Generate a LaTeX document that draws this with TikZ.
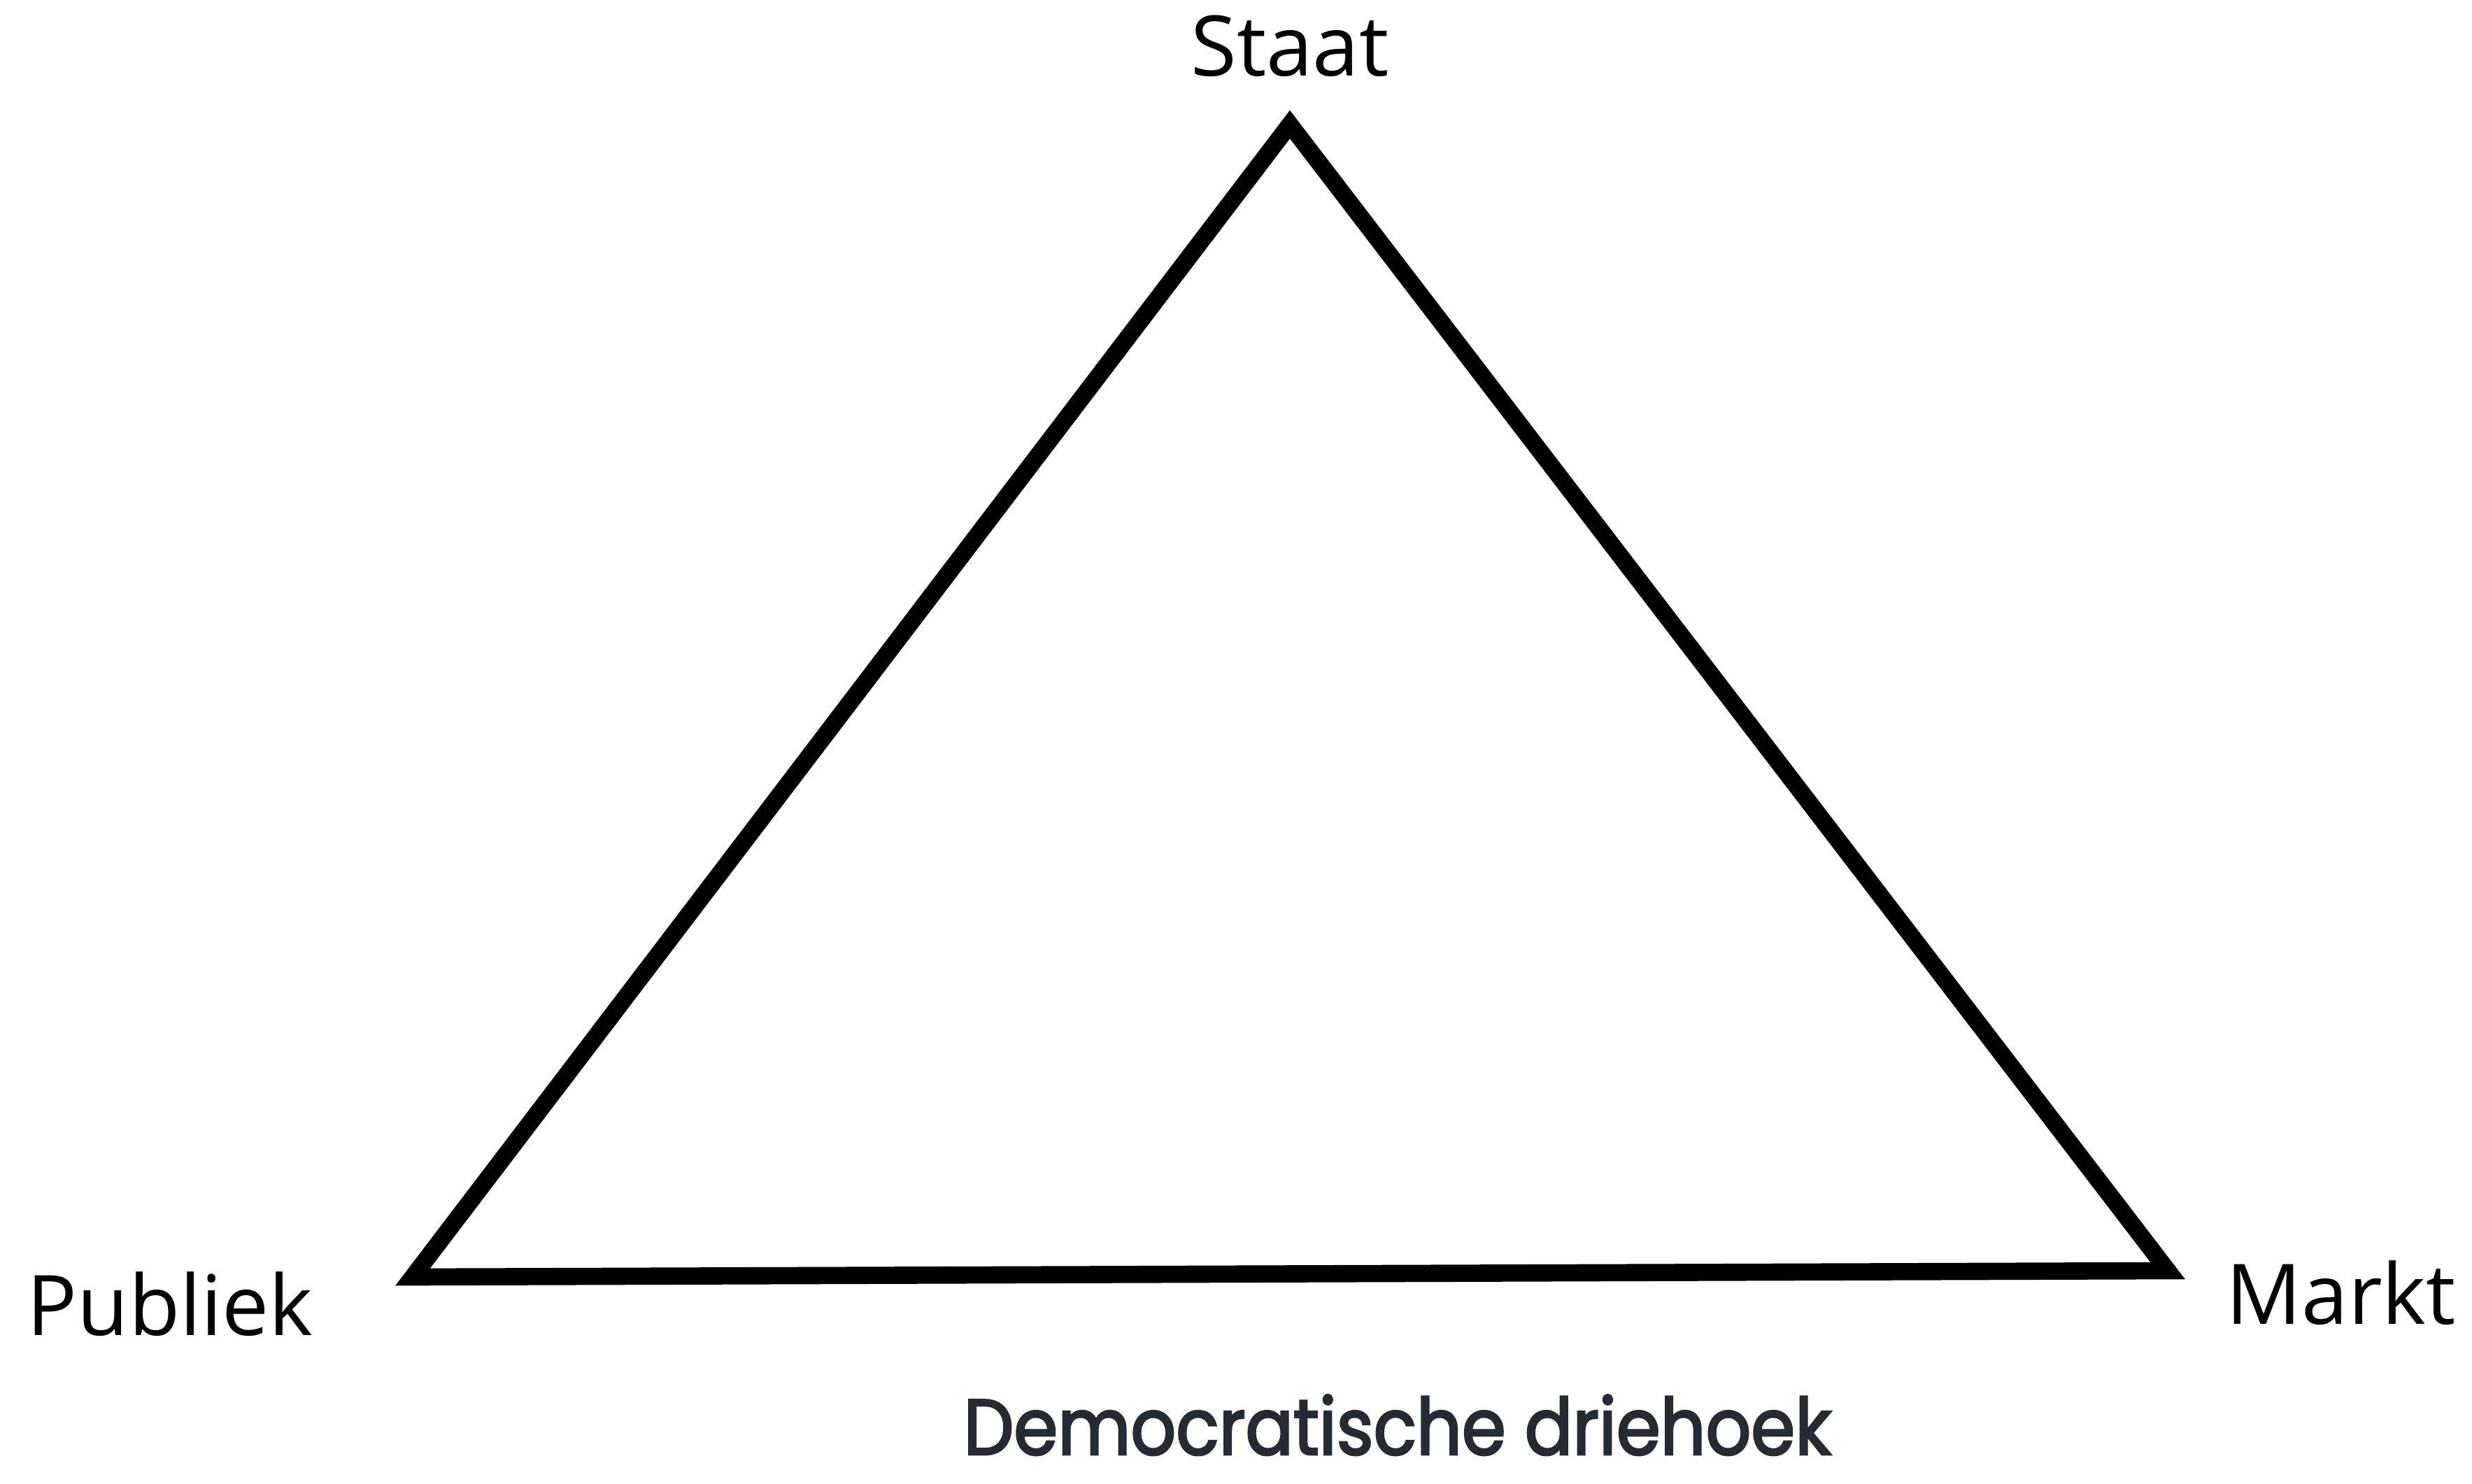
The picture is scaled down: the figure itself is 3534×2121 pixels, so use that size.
\documentclass[tikz,border=0pt]{standalone}
\usepackage{fontspec}
\setmainfont{Open Sans}
\newfontfamily\titelfont{Poppins}[FakeStretch=0.9,FakeBold=2.5]
\definecolor{titelkleur}{HTML}{262A33}

\begin{document}
\begin{tikzpicture}[x=0.01cm,y=-0.01cm,
    hoek/.style={font=\fontsize{34}{34}\selectfont, inner sep=0pt},
    zijde/.style={line width=7pt, line join=miter}]
  \useasboundingbox (0,0) rectangle (3534,2121);
  % hoekpunten van de driehoek
  \coordinate (top) at (1844,178);
  \coordinate (links) at (590,1826);
  \coordinate (rechts) at (3099,1817);
  \draw[zijde] (links) -- (top) -- (rechts) -- cycle;
  \node[hoek, anchor=base] (staat) at (1844,108) {Staat};
  \node[hoek, anchor=base west] (publiek) at (38,1909) {Publiek};
  \node[hoek, anchor=base west] (markt) at (3182,1893) {Markt};
  \node[anchor=base, inner sep=0pt, text=titelkleur,
    font=\titelfont\fontsize{32}{32}\selectfont] (titel) at (1998,2080) {Democratische driehoek};
\end{tikzpicture}
\end{document}
